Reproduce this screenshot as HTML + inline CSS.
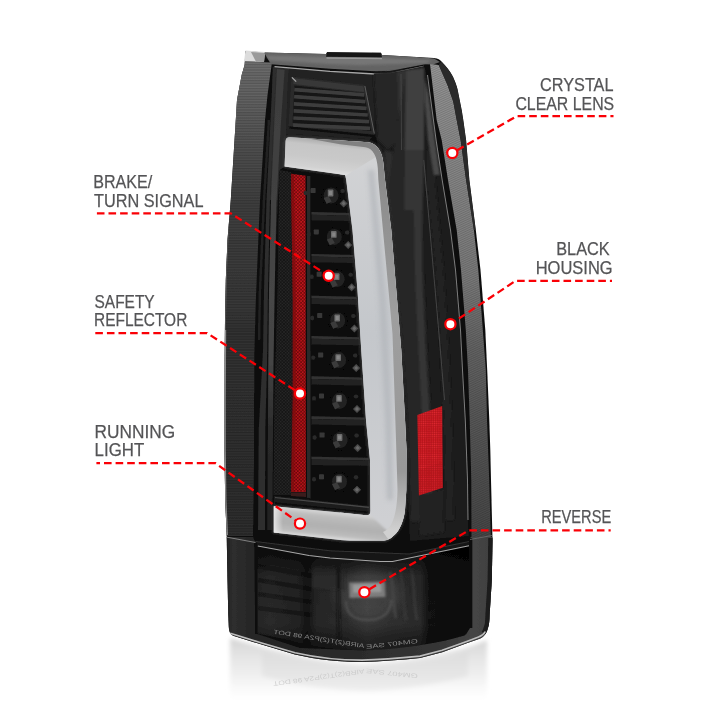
<!DOCTYPE html>
<html><head><meta charset="utf-8"><title>Tail light features</title>
<style>
html,body{margin:0;padding:0;background:#fff;}
body{width:720px;height:720px;overflow:hidden;position:relative;font-family:"Liberation Sans",sans-serif;}
svg{position:absolute;left:0;top:0;display:block}
.lbl{font-family:"Liberation Sans",sans-serif;font-size:19.1px;fill:#525254;stroke:#525254;stroke-width:0.25px;}
.dash{fill:none;stroke:#fa0006;stroke-width:2.25;stroke-dasharray:7.6 4;}
.dot{fill:#fff;stroke:#fa0006;stroke-width:2.2;}
</style></head>
<body>
<svg width="720" height="720" viewBox="0 0 720 720">
<defs>
  <linearGradient id="gGasketL" gradientUnits="userSpaceOnUse" x1="0" y1="60" x2="0" y2="536">
    <stop offset="0" stop-color="#707070"/><stop offset="0.09" stop-color="#626262"/><stop offset="0.19" stop-color="#505050"/>
    <stop offset="0.3" stop-color="#404040"/><stop offset="0.52" stop-color="#383838"/>
    <stop offset="0.57" stop-color="#323232"/><stop offset="1" stop-color="#2e2e2e"/>
  </linearGradient>
  <linearGradient id="gStripeR" gradientUnits="userSpaceOnUse" x1="0" y1="60" x2="0" y2="536">
    <stop offset="0" stop-color="#989898"/><stop offset="0.084" stop-color="#8f8f8f"/><stop offset="0.294" stop-color="#838383"/>
    <stop offset="0.456" stop-color="#7a7a7a"/><stop offset="0.609" stop-color="#636363"/><stop offset="0.811" stop-color="#545454"/><stop offset="1" stop-color="#464646"/>
  </linearGradient>
  <linearGradient id="gCoreV" gradientUnits="userSpaceOnUse" x1="0" y1="150" x2="0" y2="520">
    <stop offset="0" stop-color="#d2d3d5"/><stop offset="0.5" stop-color="#c4c7cb"/><stop offset="1" stop-color="#cfd0d3"/>
  </linearGradient>
  <linearGradient id="gBarTop" gradientUnits="userSpaceOnUse" x1="290" y1="137.2" x2="286.4" y2="171">
    <stop offset="0" stop-color="#b0b0b0"/><stop offset="0.15" stop-color="#c6c6c6"/><stop offset="0.5" stop-color="#c9c9c9"/>
    <stop offset="0.8" stop-color="#d2d2d2"/><stop offset="1" stop-color="#e6e6e6"/>
  </linearGradient>
  <linearGradient id="gBarBot" gradientUnits="userSpaceOnUse" x1="300" y1="508.75" x2="297.3" y2="535.4">
    <stop offset="0" stop-color="#d6d6d6"/><stop offset="0.18" stop-color="#bcbcbc"/><stop offset="0.55" stop-color="#b0b0b0"/>
    <stop offset="0.85" stop-color="#bcbcbc"/><stop offset="1" stop-color="#dedede"/>
  </linearGradient>
  <linearGradient id="gBarBotL" gradientUnits="userSpaceOnUse" x1="273" y1="0" x2="283" y2="0">
    <stop offset="0" stop-color="#eeeeee" stop-opacity="0.9"/><stop offset="1" stop-color="#eeeeee" stop-opacity="0"/>
  </linearGradient>
  <linearGradient id="gBand" gradientUnits="userSpaceOnUse" x1="0" y1="140" x2="0" y2="530">
    <stop offset="0" stop-color="#808080"/><stop offset="0.15" stop-color="#8e8e8e"/><stop offset="0.45" stop-color="#9e9e9e"/>
    <stop offset="0.85" stop-color="#989898"/><stop offset="0.95" stop-color="#bcbcbc"/><stop offset="1" stop-color="#d0d0d0"/>
  </linearGradient>
  <linearGradient id="gRev" gradientUnits="userSpaceOnUse" x1="257" y1="0" x2="469" y2="0">
    <stop offset="0" stop-color="#262626"/><stop offset="0.06" stop-color="#2a2a2a"/>
    <stop offset="0.2" stop-color="#222"/><stop offset="0.235" stop-color="#141414"/>
    <stop offset="0.28" stop-color="#262626"/><stop offset="0.42" stop-color="#2c2c2c"/>
    <stop offset="0.52" stop-color="#383838"/><stop offset="0.62" stop-color="#303030"/>
    <stop offset="0.77" stop-color="#2a2a2a"/><stop offset="0.81" stop-color="#121212"/><stop offset="1" stop-color="#0d0d0d"/>
  </linearGradient>
  <linearGradient id="gRevV" gradientUnits="userSpaceOnUse" x1="0" y1="545" x2="0" y2="650">
    <stop offset="0" stop-color="#000" stop-opacity="0.7"/><stop offset="0.13" stop-color="#000" stop-opacity="0.55"/><stop offset="0.3" stop-color="#000" stop-opacity="0.1"/>
    <stop offset="0.75" stop-color="#000" stop-opacity="0"/><stop offset="0.88" stop-color="#000" stop-opacity="0.3"/><stop offset="1" stop-color="#000" stop-opacity="0.45"/>
  </linearGradient>
  <linearGradient id="gRefl" gradientUnits="userSpaceOnUse" x1="0" y1="640" x2="0" y2="706">
    <stop offset="0" stop-color="#d4d4d4" stop-opacity="0.95"/><stop offset="0.25" stop-color="#e2e2e2" stop-opacity="0.9"/>
    <stop offset="0.6" stop-color="#efefef" stop-opacity="0.8"/><stop offset="1" stop-color="#ffffff" stop-opacity="0"/>
  </linearGradient>
  <linearGradient id="gFrameL" gradientUnits="userSpaceOnUse" x1="0" y1="60" x2="0" y2="536">
    <stop offset="0" stop-color="#3c3c3c"/><stop offset="0.5" stop-color="#464646"/><stop offset="0.64" stop-color="#444"/><stop offset="0.78" stop-color="#2a2a2a"/><stop offset="1" stop-color="#222"/>
  </linearGradient>
  <linearGradient id="gLow" gradientUnits="userSpaceOnUse" x1="225" y1="0" x2="492" y2="0">
    <stop offset="0" stop-color="#1e1e1e"/><stop offset="0.03" stop-color="#2e2e2e"/><stop offset="0.1" stop-color="#262626"/><stop offset="0.45" stop-color="#2a2a2a"/>
    <stop offset="0.8" stop-color="#363636"/><stop offset="0.93" stop-color="#454545"/><stop offset="1" stop-color="#404040"/>
  </linearGradient>
  <pattern id="pDots" width="3.2" height="3.2" patternUnits="userSpaceOnUse">
    <rect width="3.2" height="3.2" fill="#151515"/><circle cx="0.8" cy="0.8" r="0.75" fill="#2c2c2c"/><circle cx="2.4" cy="2.4" r="0.75" fill="#2c2c2c"/>
  </pattern>
  <pattern id="pRed" width="3.3" height="3.3" patternUnits="userSpaceOnUse">
    <rect width="3.3" height="3.3" fill="#72070a"/><circle cx="0.825" cy="0.825" r="0.9" fill="#c8181e"/><circle cx="2.475" cy="2.475" r="0.9" fill="#c8181e"/>
  </pattern>
  <pattern id="pRed2" width="2.2" height="2.2" patternUnits="userSpaceOnUse">
    <rect width="2.2" height="2.2" fill="#b4141a"/><circle cx="1.1" cy="1.1" r="0.7" fill="#de2830"/>
  </pattern>
  <pattern id="pLines" width="4" height="1.6" patternUnits="userSpaceOnUse">
    <rect width="4" height="0.7" fill="#000" opacity="0.22"/>
  </pattern>
  <pattern id="pDiag" width="2" height="2" patternUnits="userSpaceOnUse" patternTransform="rotate(-25)">
    <rect width="2" height="0.8" fill="#000" opacity="0.2"/>
  </pattern>
  <filter id="b05" x="-5%" y="-5%" width="110%" height="110%"><feGaussianBlur stdDeviation="0.45"/></filter>
  <filter id="b06" x="-5%" y="-5%" width="110%" height="110%"><feGaussianBlur stdDeviation="0.6"/></filter>
  <filter id="b1" x="-20%" y="-20%" width="140%" height="140%"><feGaussianBlur stdDeviation="1"/></filter>
  <filter id="b2" x="-20%" y="-20%" width="140%" height="140%"><feGaussianBlur stdDeviation="2"/></filter>
  <filter id="b4" x="-50%" y="-50%" width="200%" height="200%"><feGaussianBlur stdDeviation="5"/></filter>
  <clipPath id="cCore"><path d="M285.6,141.5 Q285.6,137 290,137.2 L368,142.2 C377,143.5 382.5,152 383.3,162.8 L385,180 L391.25,230 L396.25,290 L401.25,350 L405,420 L406.5,450 L406.3,490 L405,509.4 C404,521 399,530 396.6,532.8 C392,538 388,540.3 384,540.5 L350,540.5 L340,540 L300,535.4 L273.8,532.4 L273.8,506.3 L300,508.75 L340,512.5 L366,515.3 Q370.4,515.8 370.4,511 L370,460 L366,420 L361.25,350 L357.5,290 L352.5,230 L346.25,180 L345.2,175 L284.6,166.5 Z"/></clipPath>
  <clipPath id="cRev"><path d="M257.8,546 L309,555.5 L330,558 L380,561.5 L392.5,561.5 L424,555 L469,545.7 L469,626 L464.5,635.5 C452,639 440,642 424,644.5 C400,648.5 380,650 364,650.3 C335,649.5 310,646 290,640 L257.5,633.5 Z"/></clipPath>
  <clipPath id="cSil"><path d="M245.5,51 L265,52.5 L326,54 L327,52.3 L381,52.8 L382,55 L434,58 C438,58.5 440,59.5 442,62 C446,66 450,71 453,76.7 C455,81 456.5,85 457.5,89 L461.7,110 L463.3,120 L466.1,140 L469.4,180 L475.8,230 L480.5,270 L485.3,330 L487.2,370 L489.3,420 L490.3,450 L491,480 L492.5,540 L491.8,580 L489.6,615 C489.4,622 489,625 488.3,626.7 C487.5,630 486.5,632.5 485,634.4 C483.5,636.5 481.5,638 478.9,638.9 L466.7,643.3 L442.2,652.2 L420,658 C400,660 380,661.5 362,662 C340,662 318,659.8 295,654.5 L260,644 L234,636 C230.5,634.8 229.3,632.5 228.8,627 L228.3,615 L227.5,580 L226.7,535 L225.2,500 L224.5,450 L224.7,360 L225,320 L225.8,280 L227.5,240 L230.8,200 L233.3,160 L235.8,120 L237,100 L241.7,75 L244.6,65 Z"/></clipPath>
</defs>

<!-- reflection under the lamp -->
<g id="reflection" filter="url(#b2)">
  <path d="M230,638 C270,650 320,662 362,664 C410,661 460,652 487,640 L487,704 L230,704 Z" fill="url(#gRefl)"/>
  <path d="M262,652 C300,660 340,666 366,666 C400,665 440,660 468,652 L468,676 C440,684 400,690 366,691 C330,690 295,685 262,676 Z" fill="#d0d0d0" opacity="0.3"/>
</g>

<g font-family="Liberation Sans, sans-serif" font-size="6.3" fill="#c4c4c4" opacity="0.75" filter="url(#b06)">
  <g transform="translate(418,674) rotate(6) scale(-1,-1)"><text x="0" y="0" textLength="52" lengthAdjust="spacingAndGlyphs">GM407 SAE</text></g>
  <g transform="translate(364,669) rotate(-8) scale(-1,-1)"><text x="0" y="0" textLength="92" lengthAdjust="spacingAndGlyphs">AIRB(2)T(2)P2A 98 DOT</text></g>
</g>

<g id="lampAll" filter="url(#b05)">
<!-- lamp body -->
<g id="lamp">
  <path d="M245.5,51 L265,52.5 L326,54 L327,52.3 L381,52.8 L382,55 L434,58 C438,58.5 440,59.5 442,62 C446,66 450,71 453,76.7 C455,81 456.5,85 457.5,89 L461.7,110 L463.3,120 L466.1,140 L469.4,180 L475.8,230 L480.5,270 L485.3,330 L487.2,370 L489.3,420 L490.3,450 L491,480 L492.5,540 L491.8,580 L489.6,615 C489.4,622 489,625 488.3,626.7 C487.5,630 486.5,632.5 485,634.4 C483.5,636.5 481.5,638 478.9,638.9 L466.7,643.3 L442.2,652.2 L420,658 C400,660 380,661.5 362,662 C340,662 318,659.8 295,654.5 L260,644 L234,636 C230.5,634.8 229.3,632.5 228.8,627 L228.3,615 L227.5,580 L226.7,535 L225.2,500 L224.5,450 L224.7,360 L225,320 L225.8,280 L227.5,240 L230.8,200 L233.3,160 L235.8,120 L237,100 L241.7,75 L244.6,65 Z" fill="#0d0d0d"/>
  <!-- clear tab -->
  <path d="M245.5,50.5 L265,52 L264,62 L244,61.5 Z" fill="#dcdcdc"/>
  <path d="M251,52 L265,53 L264,62 L256,61.8 Z" fill="#9a9a9a"/>
  <!-- left gasket -->
  <g clip-path="url(#cSil)">
    <path d="M243,61.5 L271.9,62.5 L267.5,95 L265,120 L262.5,160 L260,200 L258.3,240 L255.8,300 L254.2,360 L254,460 L253,536 L220,536 L220,60 Z" fill="url(#gGasketL)"/>
    <path d="M243,61.5 L271.9,62.5 L267.5,95 L265,120 L262.5,160 L260,200 L258.3,240 L255.8,300 L254.2,360 L254,460 L253,536 L220,536 L220,60 Z" fill="url(#pLines)"/>
    <!-- top gasket -->
    <path d="M264,52.5 L326,53.5 L382,54 L434,58.5 L440,62 L433,64.5 L425,64.3 L390,71 L375,71.3 L330,68.8 L271,64.3 Z" fill="#646464"/><path d="M266,55.5 L326,57 L382,58 L432,60.5 L426,63 L360,65 L330,64 L270,60.5 Z" fill="#767676" filter="url(#b1)"/>
    <path d="M327,52 L381,52.5 L382,57.3 L326,56.8 Z" fill="#141414"/><path d="M326.5,58 L382,58.6" stroke="#9c9c9c" stroke-width="1.3"/>
    <!-- right textured stripe -->
    <path d="M430,64 L438.75,65 L447.5,85 L453.3,101.7 L456.7,120 L460.6,140 L466.1,180 L473.9,230 L478.3,270 L482.8,330 L485.8,370 L487,420 L489.2,480 L490.8,537 L471.5,540 L471.3,480 L469.7,420 L468,370 L465.8,330 L461,270 L456.7,230 L448,180 L441.7,140 L436.7,120 Z" fill="url(#gStripeR)"/>
    <path d="M430,64 L438.75,65 L447.5,85 L453.3,101.7 L456.7,120 L460.6,140 L466.1,180 L473.9,230 L478.3,270 L482.8,330 L485.8,370 L487,420 L489.2,480 L490.8,537 L471.5,540 L471.3,480 L469.7,420 L468,370 L465.8,330 L461,270 L456.7,230 L448,180 L441.7,140 L436.7,120 Z" fill="url(#pDiag)"/>
    <path d="M438.75,65 L447.5,85 L453.3,101.7 L456.7,120 L460.6,140 L466.1,180 L473.9,230 L476,230 L469.4,180 L466.1,140 L463.3,120 L461.7,110 L457.5,89 L453,76.7 L447.5,68 L441,61.5 Z" fill="#2e2e2e" opacity="0.9"/>
    <!-- lower housing (below seam) -->
    <path d="M220,537 L253,537 L256.5,545 L257,634 L300,648 L364,650.5 L424,643 L466,634.5 L470,628 L470.5,537 L495,537 L495,670 L220,670 Z" fill="url(#gLow)"/>
    
    <path d="M492.5,538 L491.8,580 L489.6,615 C489.4,622 489,625 488.3,626.7 C487.5,630 486.5,632.5 485,634.4" fill="none" stroke="#1a1a1a" stroke-width="8.4"/>
    <path d="M470.8,538 L470.8,628" fill="none" stroke="#0c0c0c" stroke-width="3"/>
    <path d="M226,537 L255.5,542.5" stroke="#8a8a8a" stroke-width="0.9"/><path d="M255.6,543 L256.6,634" stroke="#0a0a0a" stroke-width="2.6"/>
    <path d="M470,539.5 L492,535.5" stroke="#6a6a6a" stroke-width="0.9"/>
    <!-- left rim light edge -->
    <path d="M244.6,65 L241.7,75 L237,100 L235.8,120 L232,160 L229.5,200 L226.5,270 L224.5,360 L224.5,450 L225,540" fill="none" stroke="#6a6a6a" stroke-width="1.2" opacity="0.6"/>
    <path d="M224.9,330 L224.5,400 L224.5,450 L225.2,500 L226.7,535" fill="none" stroke="#a0a0a0" stroke-width="2.6" opacity="0.8"/>
  </g>
</g>

<!-- inner details -->
<g id="inner">
  <!-- inner frame left -->
  <path d="M272.5,66.5 L330,71 L375,73.8 L376,73.8 L375,134 L368,142 L290,137 L285.6,141 L284.6,167 L279.5,170 L276,240 L272,240 Z" fill="#202020"/>
  <path d="M273,67 L289,68 L288,76 L286,130 L284.8,166 L279.5,170 L277.5,200 L270,200 Z" fill="#2c2c2c"/>
  <path d="M277,69 L284.5,70 L281,120 L276.5,200 L274.7,290 L273.5,365 L272.8,460 L272.3,530 L267.3,530 L268.3,365 L269,290 L271,200 L274.5,120 Z" fill="url(#gFrameL)"/>
  <path d="M273,68.5 L276,69 L273.5,120 L270,200 L268,290 L267,365 L265.3,430 L265,530 L258,530 L258.7,430 L263,350 L264,290 L266.5,200 L270.5,120 Z" fill="#2e2e2e"/>
  <path d="M269,120 L264,200 L260,290 L259,340" fill="none" stroke="#222" stroke-width="2.5"/>
  <path d="M274.5,66.6 L330,71.3 L375,74 L390,73.7 L424,66.3" fill="none" stroke="#a8a8a8" stroke-width="1.3"/>
  <!-- inner right region -->
  <path d="M374,73.8 L390,73.5 L424,66 L426,73 L430,94 L436.1,140 L442.2,180 L450.5,230 L455.5,270 L460.5,330 L462.5,370 L465.3,420 L467.5,480 L468.5,536 L410,541 L408,500 L407.8,440 L406,400 L401,334 L386,196 L384,160 L378,146 L375,134 Z" fill="#1b1b1b"/>
  <g filter="url(#b1)">
    <!-- column A + ridge near top -->
    <path d="M374,73 L397,71 L398,140 L388,150 L378,140 Z" fill="#262626"/>
    <path d="M397,71 L407,70 L407,160 L404,200 L399,165 Z" fill="#333"/>
    <!-- frame hugging the bar -->
    <path d="M384,150 L392,152 L400,200 L404,260 L398,262 L388,196 Z" fill="#2e2e2e"/>
    <!-- band B -->
    <path d="M406,70 L424,68 L423,190 L423.5,270 L427,350 L432,430 L435,520 L411,522 L408.5,440 L406.5,400 L402,334 L397,280 L392,225 L388,190 L392,160 Z" fill="#262626"/>
    <path d="M413.5,200 L421.5,200 L422.3,280 L425.5,350 L430.5,430 L432.5,500 L425,500 L423,430 L418.5,350 L415.2,280 Z" fill="#363636"/>
    <path d="M406,70 L424,68 L424,150 L405,150 Z" fill="#404040"/>
    <path d="M405,150 L424,150 L423,210 L404.5,210 Z" fill="#343434"/>
    <!-- band D parallel to WL -->
    <path d="M427,150 L433,150 L436,190 L443.5,270 L448.5,350 L452,430 L454,520 L446,520 L444,430 L440.5,350 L435.5,270 L427,190 Z" fill="#222"/>
    <!-- gray next to WL near top -->
    <path d="M424.5,78 L428.5,94 L434.8,140 L440,175 L434,175 L428,140 L424.5,100 Z" fill="#484848"/>
    <path d="M419,496 L443,488.5 L444,532 L420,536 Z" fill="#242424"/>
  </g>
  <path d="M401,74 L401.5,150" stroke="#484848" stroke-width="0.8"/>
  <path d="M423.8,160 L429,220 L439.5,340 L444.5,400" fill="none" stroke="#484848" stroke-width="0.9"/>
  <!-- thin highlight line -->
  <path d="M427.5,75 L430,94 L436.1,140 L442.2,180 L450.5,230 L455.5,270 L460.5,330 L462.5,370 L465.3,420 L467.5,480 L468,520" fill="none" stroke="#c8c8c8" stroke-width="0.7" opacity="0.85"/>

  <!-- louvre -->
  <path d="M291.5,76.5 L364.7,84.8 L374.7,134.5 L288.4,126 Z" fill="#2a2a2a"/>
  <path d="M293,78.3 L363.3,86.3 L364.3,92 L293.6,84 Z" fill="#393939"/>
  <path d="M294.5,85.5 L363.8,93 L371.4,131 L292.6,123 Z" fill="#131313"/>
  <g stroke="#3d3d3d" stroke-width="3.7" fill="none"><path d="M294.3,89.6 L364.2,94.9"/><path d="M294.1,96.7 L365.4,101.6"/><path d="M293.8,103.8 L366.6,108.3"/><path d="M293.6,110.9 L367.8,115.0"/><path d="M293.3,118.0 L369.0,121.7"/><path d="M293.1,125.1 L370.2,128.4"/></g>
  <path d="M364.9,86 L374.3,133.5" stroke="#5e5e5e" stroke-width="1"/>
  <path d="M291.9,77.4 L296.2,81.6" stroke="#a8a8a8" stroke-width="1.3"/>
  <path d="M289.5,127.5 L374,136" stroke="#0a0a0a" stroke-width="2"/>
  <!-- dotted strip + red strip -->
  <path d="M279.5,170 L291,172 L293,300 L293,400 L291,495 L273.5,495 L274.4,400 L277.5,290 Z" fill="url(#pDots)"/>
  <path d="M291,173.7 L306,175.7 L307.6,300 L307.6,400 L305.8,492 L291,492 L292.8,400 L292.8,300 Z" fill="url(#pRed)"/><path d="M291,330 L308,330 L306,492 L291,492 Z" fill="#5c0008" opacity="0.12"/>
  <path d="M291,173.7 L294,174.1 L295.8,300 L295.8,400 L294,492 L291,492 L292.8,400 L292.8,300 Z" fill="#7c0a10" opacity="0.75"/>
  

  <!-- LED column -->
  <path d="M305.5,175.7 L344.9,175.5 L346.25,180 L352.5,230 L357.5,290 L361.25,350 L366,420 L370,460 L370.4,506 L306,498.5 Z" fill="#101010"/>
  <path d="M307,176 L310.3,176 L310.5,498.2 L307,497.8 Z" fill="#2a2a2a"/>
  <g id="leds" filter="url(#b06)"><path d="M311.5,212.0 L349.3,213.1 L349.7,215.7 L311.5,214.7 Z" fill="#323232"/><path d="M311.5,214.7 L349.7,215.7 L350.2,221.1 L311.5,220.3 Z" fill="#222"/><path d="M311.5,253.9 L353.3,255.0 L353.7,257.6 L311.5,256.6 Z" fill="#323232"/><path d="M311.5,256.6 L353.7,257.6 L354.2,263.0 L311.5,262.2 Z" fill="#222"/><path d="M311.5,295.7 L356.6,296.8 L357.0,299.4 L311.5,298.4 Z" fill="#323232"/><path d="M311.5,298.4 L357.0,299.4 L357.5,304.8 L311.5,304.0 Z" fill="#222"/><path d="M311.5,336.1 L359.1,337.2 L359.5,339.8 L311.5,338.8 Z" fill="#323232"/><path d="M311.5,338.8 L359.5,339.8 L360.0,345.2 L311.5,344.4 Z" fill="#222"/><path d="M311.5,376.3 L361.8,377.4 L362.2,380.0 L311.5,379.0 Z" fill="#323232"/><path d="M311.5,379.0 L362.2,380.0 L362.7,385.4 L311.5,384.6 Z" fill="#222"/><path d="M311.5,416.2 L364.6,417.4 L365.0,419.9 L311.5,418.9 Z" fill="#323232"/><path d="M311.5,418.9 L365.0,419.9 L365.5,425.4 L311.5,424.6 Z" fill="#222"/><path d="M311.5,456.7 L368.5,457.8 L368.9,460.4 L311.5,459.4 Z" fill="#323232"/><path d="M311.5,459.4 L368.9,460.4 L369.4,465.8 L311.5,465.0 Z" fill="#222"/><ellipse cx="331.1" cy="196" rx="10" ry="10.5" fill="#0a0a0a"/><ellipse cx="331.1" cy="195.5" rx="7.5" ry="8" fill="#232323"/><path d="M323.6,198 L328.6,196 L331.6,201.5 L326.6,204 Z" fill="#3a3a3a"/><rect x="327.8" y="189.6" width="5.6" height="6.8" rx="0.9" fill="#6c6c6c"/><rect x="329.0" y="191" width="3.2" height="4" rx="0.5" fill="#868686"/><rect x="310.6" y="188" width="5" height="5" rx="0.8" fill="#393939"/><ellipse cx="305.6" cy="193" rx="2" ry="2.2" fill="#2a2a2a"/><path d="M343.6,199.5 L347.6,203.5 L343.6,207.5 L339.6,203.5 Z" fill="#4c4c4c"/><path d="M343.6,201.3 L345.6,203.5 L343.6,205.5 L341.6,203.5 Z" fill="#6a6a6a"/><ellipse cx="342.6" cy="191" rx="2.2" ry="2" fill="#2c2c2c"/><ellipse cx="334.3" cy="237.4" rx="10" ry="10.5" fill="#0a0a0a"/><ellipse cx="334.3" cy="236.9" rx="7.5" ry="8" fill="#232323"/><path d="M326.8,239.4 L331.8,237.4 L334.8,242.9 L329.8,245.4 Z" fill="#3a3a3a"/><rect x="331.0" y="231.0" width="5.6" height="6.8" rx="0.9" fill="#6c6c6c"/><rect x="332.2" y="232.4" width="3.2" height="4" rx="0.5" fill="#868686"/><rect x="313.8" y="229.4" width="5" height="5" rx="0.8" fill="#393939"/><ellipse cx="308.8" cy="234.4" rx="2" ry="2.2" fill="#2a2a2a"/><path d="M348.2,240.9 L352.2,244.9 L348.2,248.9 L344.2,244.9 Z" fill="#4c4c4c"/><path d="M348.2,242.70000000000002 L350.2,244.9 L348.2,246.9 L346.2,244.9 Z" fill="#6a6a6a"/><ellipse cx="347.2" cy="232.4" rx="2.2" ry="2" fill="#2c2c2c"/><ellipse cx="337.2" cy="279.7" rx="10" ry="10.5" fill="#0a0a0a"/><ellipse cx="337.2" cy="279.2" rx="7.5" ry="8" fill="#232323"/><path d="M329.7,281.7 L334.7,279.7 L337.7,285.2 L332.7,287.7 Z" fill="#3a3a3a"/><rect x="333.9" y="273.3" width="5.6" height="6.8" rx="0.9" fill="#6c6c6c"/><rect x="335.09999999999997" y="274.7" width="3.2" height="4" rx="0.5" fill="#868686"/><rect x="316.7" y="271.7" width="5" height="5" rx="0.8" fill="#393939"/><ellipse cx="311.7" cy="276.7" rx="2" ry="2.2" fill="#2a2a2a"/><path d="M351.7,283.2 L355.7,287.2 L351.7,291.2 L347.7,287.2 Z" fill="#4c4c4c"/><path d="M351.7,285.0 L353.7,287.2 L351.7,289.2 L349.7,287.2 Z" fill="#6a6a6a"/><ellipse cx="350.7" cy="274.7" rx="2.2" ry="2" fill="#2c2c2c"/><ellipse cx="337.7" cy="321" rx="10" ry="10.5" fill="#0a0a0a"/><ellipse cx="337.7" cy="320.5" rx="7.5" ry="8" fill="#232323"/><path d="M330.2,323 L335.2,321 L338.2,326.5 L333.2,329 Z" fill="#3a3a3a"/><rect x="334.4" y="314.6" width="5.6" height="6.8" rx="0.9" fill="#6c6c6c"/><rect x="335.59999999999997" y="316" width="3.2" height="4" rx="0.5" fill="#868686"/><rect x="317.2" y="313" width="5" height="5" rx="0.8" fill="#393939"/><ellipse cx="312.2" cy="318" rx="2" ry="2.2" fill="#2a2a2a"/><path d="M354.4,324.5 L358.4,328.5 L354.4,332.5 L350.4,328.5 Z" fill="#4c4c4c"/><path d="M354.4,326.3 L356.4,328.5 L354.4,330.5 L352.4,328.5 Z" fill="#6a6a6a"/><ellipse cx="353.4" cy="316" rx="2.2" ry="2" fill="#2c2c2c"/><ellipse cx="338.7" cy="360.6" rx="10" ry="10.5" fill="#0a0a0a"/><ellipse cx="338.7" cy="360.1" rx="7.5" ry="8" fill="#232323"/><path d="M331.2,362.6 L336.2,360.6 L339.2,366.1 L334.2,368.6 Z" fill="#3a3a3a"/><rect x="335.4" y="354.20000000000005" width="5.6" height="6.8" rx="0.9" fill="#6c6c6c"/><rect x="336.59999999999997" y="355.6" width="3.2" height="4" rx="0.5" fill="#868686"/><rect x="318.2" y="352.6" width="5" height="5" rx="0.8" fill="#393939"/><ellipse cx="313.2" cy="357.6" rx="2" ry="2.2" fill="#2a2a2a"/><path d="M356.2,364.1 L360.2,368.1 L356.2,372.1 L352.2,368.1 Z" fill="#4c4c4c"/><path d="M356.2,365.90000000000003 L358.2,368.1 L356.2,370.1 L354.2,368.1 Z" fill="#6a6a6a"/><ellipse cx="355.2" cy="355.6" rx="2.2" ry="2" fill="#2c2c2c"/><ellipse cx="339.5" cy="401.4" rx="10" ry="10.5" fill="#0a0a0a"/><ellipse cx="339.5" cy="400.9" rx="7.5" ry="8" fill="#232323"/><path d="M332,403.4 L337,401.4 L340,406.9 L335,409.4 Z" fill="#3a3a3a"/><rect x="336.2" y="395.0" width="5.6" height="6.8" rx="0.9" fill="#6c6c6c"/><rect x="337.4" y="396.4" width="3.2" height="4" rx="0.5" fill="#868686"/><rect x="319" y="393.4" width="5" height="5" rx="0.8" fill="#393939"/><ellipse cx="314" cy="398.4" rx="2" ry="2.2" fill="#2a2a2a"/><path d="M357.0,404.9 L361.0,408.9 L357.0,412.9 L353.0,408.9 Z" fill="#4c4c4c"/><path d="M357.0,406.7 L359.0,408.9 L357.0,410.9 L355.0,408.9 Z" fill="#6a6a6a"/><ellipse cx="356.0" cy="396.4" rx="2.2" ry="2" fill="#2c2c2c"/><ellipse cx="340.1" cy="440.5" rx="10" ry="10.5" fill="#0a0a0a"/><ellipse cx="340.1" cy="440.0" rx="7.5" ry="8" fill="#232323"/><path d="M332.6,442.5 L337.6,440.5 L340.6,446.0 L335.6,448.5 Z" fill="#3a3a3a"/><rect x="336.8" y="434.1" width="5.6" height="6.8" rx="0.9" fill="#6c6c6c"/><rect x="338.0" y="435.5" width="3.2" height="4" rx="0.5" fill="#868686"/><rect x="319.6" y="432.5" width="5" height="5" rx="0.8" fill="#393939"/><ellipse cx="314.6" cy="437.5" rx="2" ry="2.2" fill="#2a2a2a"/><path d="M357.6,444.0 L361.6,448.0 L357.6,452.0 L353.6,448.0 Z" fill="#4c4c4c"/><path d="M357.6,445.8 L359.6,448.0 L357.6,450.0 L355.6,448.0 Z" fill="#6a6a6a"/><ellipse cx="356.6" cy="435.5" rx="2.2" ry="2" fill="#2c2c2c"/><ellipse cx="339.5" cy="482.2" rx="10" ry="10.5" fill="#0a0a0a"/><ellipse cx="339.5" cy="481.7" rx="7.5" ry="8" fill="#232323"/><path d="M332,484.2 L337,482.2 L340,487.7 L335,490.2 Z" fill="#3a3a3a"/><rect x="336.2" y="475.8" width="5.6" height="6.8" rx="0.9" fill="#6c6c6c"/><rect x="337.4" y="477.2" width="3.2" height="4" rx="0.5" fill="#868686"/><rect x="319" y="474.2" width="5" height="5" rx="0.8" fill="#393939"/><ellipse cx="314" cy="479.2" rx="2" ry="2.2" fill="#2a2a2a"/><path d="M357.0,485.7 L361.0,489.7 L357.0,493.7 L353.0,489.7 Z" fill="#4c4c4c"/><path d="M357.0,487.5 L359.0,489.7 L357.0,491.7 L355.0,489.7 Z" fill="#6a6a6a"/><ellipse cx="356.0" cy="477.2" rx="2.2" ry="2" fill="#2c2c2c"/></g>

  <!-- ledge below LED column -->
  <path d="M273.8,496 L370,506 L370.4,516 L273.8,506.3 Z" fill="#1e1e1e"/>
  <path d="M275,497.5 L369,507.3" stroke="#4a4a4a" stroke-width="1.2"/><path d="M275,503.5 L369,513" stroke="#0a0a0a" stroke-width="2.5"/>
  <path d="M291,492.5 L306,492.5 L306,497 L291,496 Z" fill="#3a1c1c"/>

  <!-- right red reflector -->
  <path d="M417.3,414.9 L442.2,406 L442.9,487.8 L418.9,495.5 Z" fill="url(#pRed2)"/>
  <path d="M418.3,470 L442.8,462 L442.9,487.8 L418.9,495.5 Z" fill="#8c0c14" opacity="0.12"/>
</g>

<!-- light bar -->
<g id="bar">
  <path d="M285.6,141.5 Q285.6,137 290,137.2 L368,142.2 C377,143.5 382.5,152 383.3,162.8 L385,180 L391.25,230 L396.25,290 L401.25,350 L405,420 L406.5,450 L406.3,490 L405,509.4 C404,521 399,530 396.6,532.8 C392,538 388,540.3 384,540.5 L350,540.5 L340,540 L300,535.4 L273.8,532.4 L273.8,506.3 L300,508.75 L340,512.5 L366,515.3 Q370.4,515.8 370.4,511 L370,460 L366,420 L361.25,350 L357.5,290 L352.5,230 L346.25,180 L345.2,175 L284.6,166.5 Z" fill="#3a3a3a" stroke="#3a3a3a" stroke-width="2.4" stroke-linejoin="round" filter="url(#b1)"/>
  <path d="M285.6,141.5 Q285.6,137 290,137.2 L368,142.2 C377,143.5 382.5,152 383.3,162.8 L385,180 L391.25,230 L396.25,290 L401.25,350 L405,420 L406.5,450 L406.3,490 L405,509.4 C404,521 399,530 396.6,532.8 C392,538 388,540.3 384,540.5 L350,540.5 L340,540 L300,535.4 L273.8,532.4 L273.8,506.3 L300,508.75 L340,512.5 L366,515.3 Q370.4,515.8 370.4,511 L370,460 L366,420 L361.25,350 L357.5,290 L352.5,230 L346.25,180 L345.2,175 L284.6,166.5 Z" fill="#c6c8cb"/>
  <g clip-path="url(#cCore)">
    <!-- vertical part shading -->
    <rect x="340" y="130" width="75" height="420" fill="url(#gCoreV)"/>
    <path d="M368,170 L374,170 L386,300 L392,420 L393,500 L387,500 L385,420 L379,300 Z" fill="#b4b7bc" opacity="0.8" filter="url(#b2)"/>
    <!-- top bar -->
    <path d="M284,136 L372,141 L384,152 L345,176 L284,168 Z" fill="url(#gBarTop)"/>
    <!-- bottom bar -->
    <path d="M273,505 L370,515 L394,537 L390,545 L273,534 Z" fill="url(#gBarBot)" filter="url(#b1)"/>
    <rect x="273" y="500" width="10" height="36" fill="url(#gBarBotL)"/>
    <!-- outer band -->
    <path d="M300,137 L368,141.5 C378,143 384,152 384.5,163 L386,180 L392,230 L397,290 L402,350 L406,420 L408,450 L408,510 C406,525 400,536 390,541.5 L383,532 C392,529 397,515 397.5,490 L396,440 L392.5,334 L389.4,300 L379.8,196 L378.3,179.4 L377.8,168.3 C377,156 373,148.5 365.5,147.2 L340,144.3 Z" fill="url(#gBand)"/>
  </g>
</g>

<!-- reverse section -->
<g id="reverse">
  <!-- bevel band above lens -->
  <path d="M255.5,541.5 L330,550.8 L409,554 L469,541.5 L469,545.7 L424,555 L392.5,561.5 L380,561.5 L330,558 L309,555.5 L257.8,546 Z" fill="#161616"/>
  <path d="M255.5,541.5 L330,550.8 L409,554 L469,541.5" fill="none" stroke="#3c3c3c" stroke-width="0.8"/>
  <path d="M257.8,546 L309,555.5 L330,558 L380,561.5 L392.5,561.5 L424,555 L469,545.7 L469,626 L464.5,635.5 C452,639 440,642 424,644.5 C400,648.5 380,650 364,650.3 C335,649.5 310,646 290,640 L257.5,633.5 Z" fill="url(#gRev)"/>
  <g clip-path="url(#cRev)">
    <ellipse cx="368" cy="594" rx="34" ry="24" fill="#6a6a6a" opacity="0.3" filter="url(#b4)"/>
    <g filter="url(#b1)">
      <path d="M312,566 L345,569 L345,590 L312,588 Z" fill="#2e2e2e" opacity="0.8"/>
      <path d="M349,582.5 L385,581.5 L385.5,597 L349.5,598 Z" fill="#8c8c8c" opacity="0.9"/>
      <path d="M353,584.5 L381,583.8 L381.3,592 L353.3,592.8 Z" fill="#aaaaaa" opacity="0.9"/>
      <path d="M346,601 C346,614 354,620 368,620 C382,620 391,613 391,600" fill="none" stroke="#555" stroke-width="2.2" opacity="0.8"/>
      <path d="M352,600 C353,609 359,613 368,613 C377,613 384,608 385,600" fill="none" stroke="#444" stroke-width="2" opacity="0.8"/>
      <path d="M390,572 C394,585 392,600 396,618" fill="none" stroke="#4c4c4c" stroke-width="2.5" opacity="0.8"/>
      <path d="M400,570 C404,585 402,600 406,620" fill="none" stroke="#3c3c3c" stroke-width="2.5" opacity="0.8"/>
      <path d="M411,568 C415,585 413,600 417,620" fill="none" stroke="#444" stroke-width="2.2" opacity="0.7"/>
      <path d="M336,566 L340,566 L341,640 L337,640 Z" fill="#111" opacity="0.6"/>
    </g>
    <g stroke="#000" stroke-opacity="0.3" stroke-width="4.5">
      <path d="M258,566 L312,576"/><path d="M258,580 L312,589"/><path d="M258,594 L312,602"/><path d="M258,608 L312,615"/>
      <path d="M428,580 L470,571"/><path d="M428,594 L470,585"/><path d="M428,608 L470,599"/><path d="M428,622 L470,612"/>
    </g>
    <rect x="250" y="540" width="225" height="112" fill="url(#gRevV)"/>
  </g>
  <path d="M257.8,546 L309,555.5 L330,558 L380,561.5 L392.5,561.5 L424,555 L469,545.7" fill="none" stroke="#a8a8a8" stroke-width="1.1"/>
  <path d="M230.2,633.3 L260,642.4 L295,652.7 C318,657.9 340,660.1 362,660.1 C380,659.7 400,658.1 420,656.1 L442.2,650.3 L466.7,641.4 L478.5,637 C481.5,636 484,634 485.3,631.5" fill="none" stroke="#bdbdbd" stroke-width="1.6"/>
  <g font-family="Liberation Sans, sans-serif" font-size="6" fill="#a0a0a0" opacity="0.8">
    <g transform="translate(418,643) rotate(-6.5) scale(-1,1)"><text x="0" y="0" textLength="52" lengthAdjust="spacingAndGlyphs">GM407 SAE</text></g>
    <g transform="translate(364,648) rotate(9) scale(-1,1)"><text x="0" y="0" textLength="92" lengthAdjust="spacingAndGlyphs">AIRB(2)T(2)P2A 98 DOT</text></g>
  </g>
</g>
</g>

<!-- callouts -->
<g id="callouts">
  <path class="dash" d="M96.9,213.4 H230.7 L328.7,275.8"/>
  <path class="dash" d="M95.3,333 H207 L300,393.5"/>
  <path class="dash" d="M96.4,463.1 H215.3 L300,523.6" stroke-dashoffset="4"/>
  <path class="dash" d="M613.5,116 H517 L452.3,153" stroke-dashoffset="4.5"/>
  <path class="dash" d="M612,280.8 H515.6 L450.4,324.2" stroke-dashoffset="5.5"/>
  <path class="dash" d="M610.7,530.3 H468.9 L364.4,592.2" stroke-dashoffset="5.4"/>
  <circle class="dot" cx="328.7" cy="275.8" r="5.1"/>
  <circle class="dot" cx="300" cy="393.5" r="5.1"/>
  <circle class="dot" cx="300" cy="523.6" r="5.1"/>
  <circle class="dot" cx="452.3" cy="153" r="5.1"/>
  <circle class="dot" cx="450.4" cy="324.2" r="5.1"/>
  <circle class="dot" cx="364.4" cy="592.2" r="5.1"/>
</g>

<g id="labels" opacity="0.99">
  <text class="lbl" x="93.2" y="188" textLength="59" lengthAdjust="spacingAndGlyphs">BRAKE/</text>
  <text class="lbl" x="94" y="207" textLength="109.5" lengthAdjust="spacingAndGlyphs">TURN SIGNAL</text>
  <text class="lbl" x="94.5" y="307.6" textLength="60.2" lengthAdjust="spacingAndGlyphs">SAFETY</text>
  <text class="lbl" x="94" y="325.9" textLength="93.3" lengthAdjust="spacingAndGlyphs">REFLECTOR</text>
  <text class="lbl" x="94.6" y="438" textLength="80.6" lengthAdjust="spacingAndGlyphs">RUNNING</text>
  <text class="lbl" x="94.6" y="456.2" textLength="49.6" lengthAdjust="spacingAndGlyphs">LIGHT</text>
  <text class="lbl" x="540" y="91" textLength="73.5" lengthAdjust="spacingAndGlyphs">CRYSTAL</text>
  <text class="lbl" x="515.4" y="110" textLength="98.8" lengthAdjust="spacingAndGlyphs">CLEAR LENS</text>
  <text class="lbl" x="556.2" y="255" textLength="53.5" lengthAdjust="spacingAndGlyphs">BLACK</text>
  <text class="lbl" x="535.7" y="273.75" textLength="77" lengthAdjust="spacingAndGlyphs">HOUSING</text>
  <text class="lbl" x="541.2" y="523" textLength="70" lengthAdjust="spacingAndGlyphs">REVERSE</text>
</g>
</svg>
</body></html>
